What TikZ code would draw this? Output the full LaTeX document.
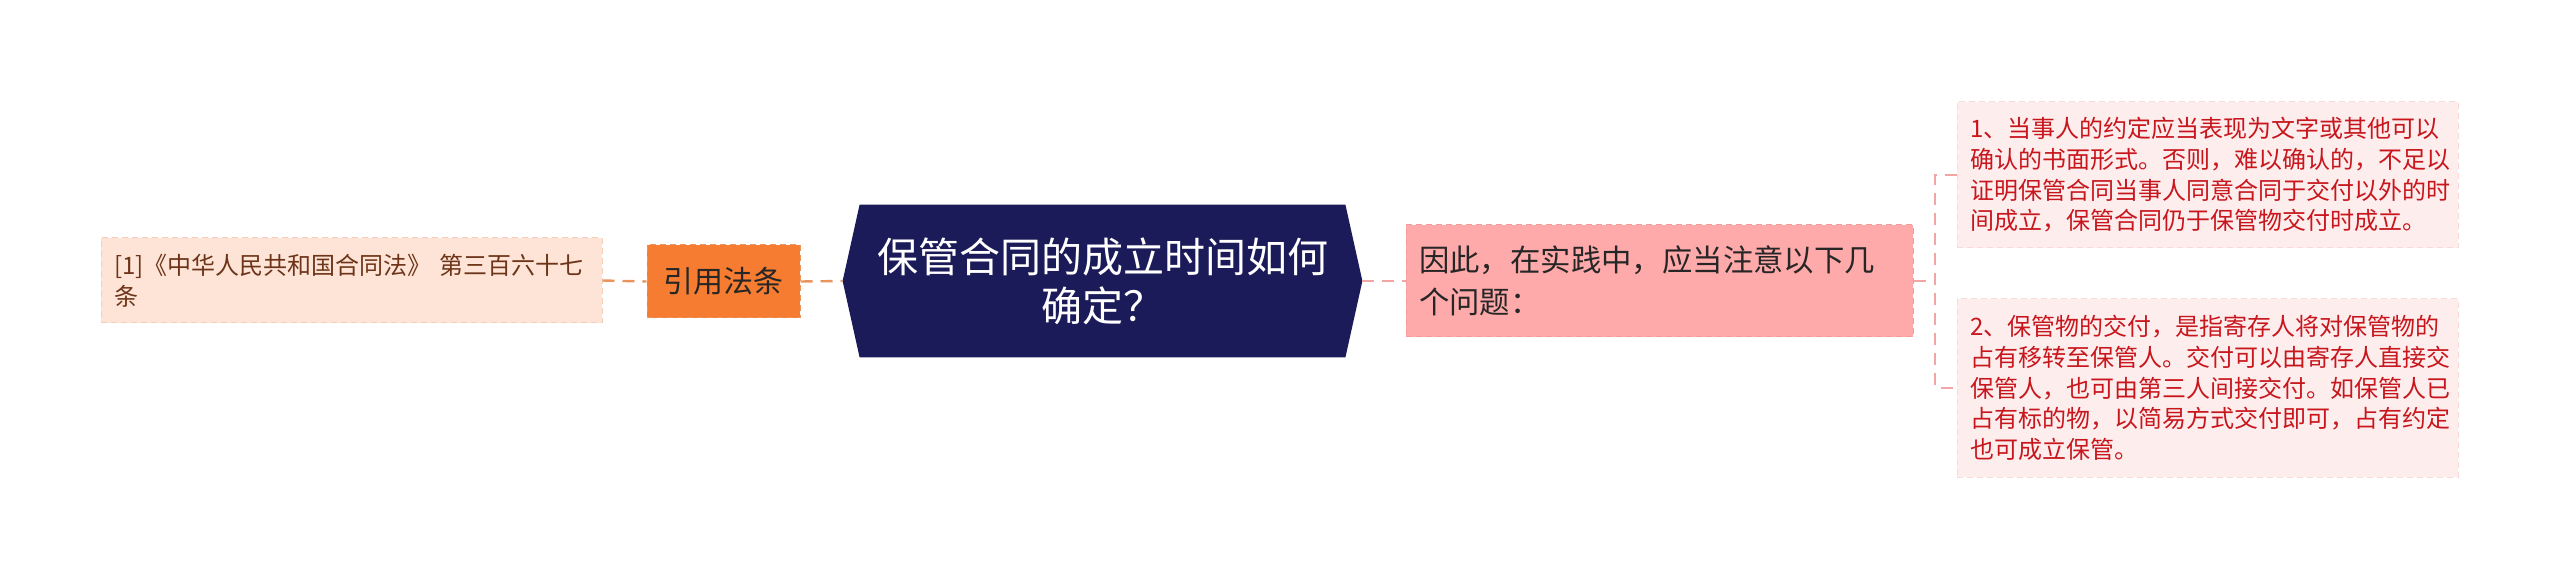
\documentclass[tikz,border=0pt]{standalone}
\usepackage{fontspec}
\setmainfont{Noto Sans CJK SC}
\usepackage{xcolor}
\usetikzlibrary{backgrounds}

\definecolor{citefill}{HTML}{FDE4D6}
\definecolor{citeline}{HTML}{F6CDB6}
\definecolor{citetext}{HTML}{6E3419}
\definecolor{reffill}{HTML}{F57C30}
\definecolor{refline}{HTML}{E9945C}
\definecolor{rootfill}{HTML}{1C1B59}
\definecolor{midfill}{HTML}{FFAAAA}
\definecolor{midline}{HTML}{F29C9C}
\definecolor{pfill}{HTML}{FDEDED}
\definecolor{pline}{HTML}{F7DADA}
\definecolor{ptext}{HTML}{C8161D}
\definecolor{linkpink}{HTML}{F2A5A5}

\tikzset{
  box/.style={rectangle, inner xsep=6.5pt, inner ysep=0pt, align=left,
    dash pattern=on 3pt off 2pt, line width=0.5pt},
  link/.style={line width=1.2pt, dash pattern=on 6pt off 4pt}
}

\begin{document}
\begin{tikzpicture}[x=0.5pt, y=0.5pt]
  \useasboundingbox (0,0) rectangle (2560,579);

  % central topic
  \node[rectangle, inner sep=0pt, minimum width=242.5pt, minimum height=76pt,
    align=center, text=white, font=\fontsize{20.5pt}{24.5pt}\selectfont]
    (root) at (1102.5,298) {保管合同的成立时间如何\\确定？};
  \coordinate (rootL) at ([xshift=-8.5pt]root.west);
  \coordinate (rootR) at ([xshift=8.5pt]root.east);
  \begin{pgfonlayer}{background}
    \fill[rootfill] (rootL) -- (root.north west) -- (root.north east)
      -- (rootR) -- (root.south east) -- (root.south west) -- cycle;
  \end{pgfonlayer}

  % left branch
  \node[box, draw=refline, fill=reffill, text=black!85, align=center,
    minimum width=76.5pt, minimum height=36.5pt,
    font=\fontsize{15pt}{18pt}\selectfont]
    (ref) at (723.5,297.5) {引用法条};
  \node[box, draw=citeline, fill=citefill, text=citetext,
    text width=237.5pt, minimum height=42.5pt,
    font=\fontsize{12pt}{15.5pt}\selectfont]
    (cite) at (351.5,298.5) {[1]《中华人民共和国合同法》 第三百六十七\\条};

  % right branch
  \node[box, draw=midline, fill=midfill, text=black!85,
    text width=240.5pt, minimum height=56pt,
    font=\fontsize{15.2pt}{21pt}\selectfont]
    (mid) at (1659.5,298) {因此，在实践中，应当注意以下几\\个问题：};
  \node[box, draw=pline, fill=pfill, text=ptext,
    text width=237.5pt, minimum height=73pt,
    font=\fontsize{12pt}{15.3pt}\selectfont]
    (p1) at (2207.5,404) {1、当事人的约定应当表现为文字或其他可以\\确认的书面形式。否则，难以确认的，不足以\\证明保管合同当事人同意合同于交付以外的时\\间成立，保管合同仍于保管物交付时成立。};
  \node[box, draw=pline, fill=pfill, text=ptext,
    text width=237.5pt, minimum height=89pt,
    font=\fontsize{12pt}{15.3pt}\selectfont]
    (p2) at (2207.5,191) {2、保管物的交付，是指寄存人将对保管物的\\占有移转至保管人。交付可以由寄存人直接交\\保管人，也可由第三人间接交付。如保管人已\\占有标的物，以简易方式交付即可，占有约定\\也可成立保管。};
  \coordinate (brk) at (1935,298);

  % connectors
  \draw[link, refline] (cite.east) -- (ref.west);
  \draw[link, refline] (ref.east) -- (rootL);
  \draw[link, linkpink] (rootR) -- (mid.west);
  \draw[link, linkpink] (mid.east) -- (brk);
  \draw[link, linkpink, line width=0.8pt] (p1.west) -| (brk) |- (p2.west);
\end{tikzpicture}
\end{document}
